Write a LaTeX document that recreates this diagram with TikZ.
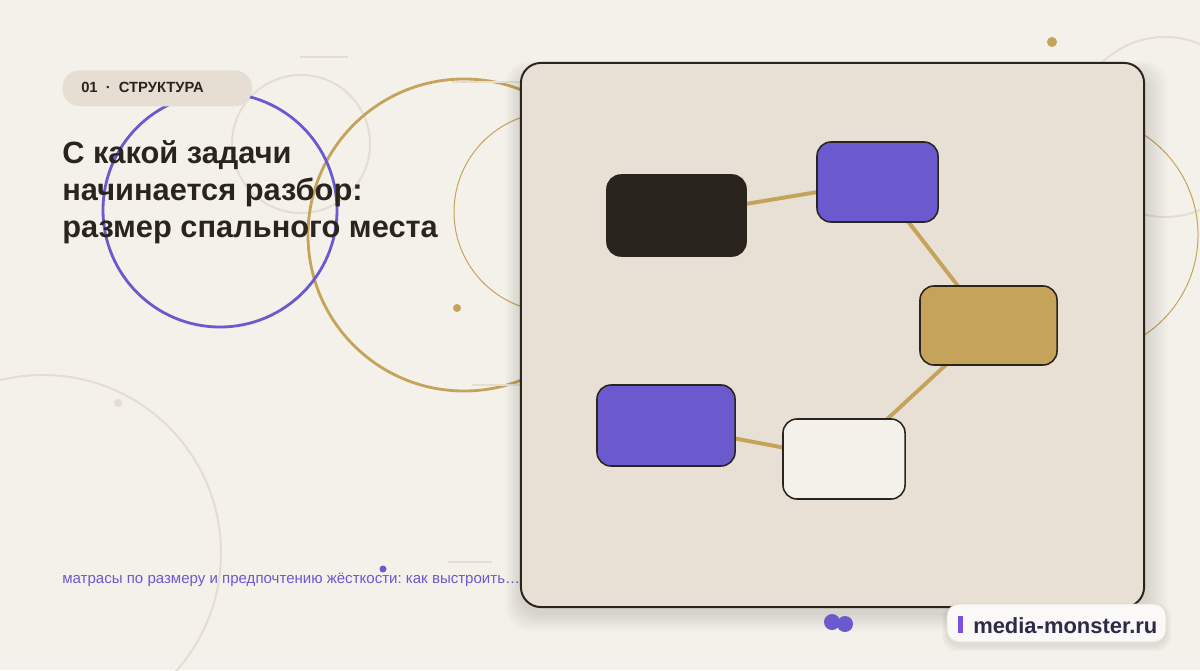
\documentclass[tikz,border=0pt]{standalone}
\usepackage{fontspec}
\setmainfont{Liberation Sans}
\usetikzlibrary{positioning}
\frenchspacing

\definecolor{paper}{HTML}{F4F1EA}
\definecolor{panelfill}{HTML}{E8E0D4}
\definecolor{ink}{HTML}{2A241E}
\definecolor{violet}{HTML}{6A5ACD}
\definecolor{gold}{HTML}{C6A35A}
\definecolor{haze}{HTML}{E3DDD2}
\definecolor{pillfill}{HTML}{E6DED2}
\definecolor{badgeink}{HTML}{2E2A4A}
\definecolor{badgebar}{HTML}{7B4FE0}

\tikzset{
  ring/.style={draw=haze, line width=1.4pt},
  goldring/.style={draw=gold, line width=2pt},
  thinring/.style={draw=gold, line width=0.7pt},
  dash line/.style={draw=haze, line width=1.2pt},
  card/.style={rounded corners=0.35cm, draw=ink, line width=1.1pt, inner sep=0pt},
  link/.style={draw=gold, line width=2.8pt},
}

\begin{document}
\begin{tikzpicture}[x=0.025cm, y=-0.025cm]
  \useasboundingbox (0,0) rectangle (1200,670);
  \fill [paper] (0,0) rectangle (1200,670);

  % Drawing the background rings
  \draw [ring] (301,144) circle (69);
  \draw [ring] (1165,127) circle (90);
  \draw [ring] (43,553) circle (178);
  \draw [goldring] (464,235) circle (156);
  \draw [thinring] (554,212) circle (100);
  \draw [thinring] (1078,235) circle (120);
  \draw [draw=violet, line width=2pt] (220,210) circle (117);

  % Drawing short hairlines
  \draw [dash line] (300,57) -- (348,57);
  \draw [dash line] (452,82) -- (521,82);
  \draw [dash line] (472,385) -- (521,385);
  \draw [dash line] (448,562) -- (492,562);

  % Marking the loose dots
  \fill [gold] (457,308) circle (4);
  \fill [gold] (1052,42) circle (5);
  \fill [haze] (118,403) circle (4);
  \fill [violet] (383,569) circle (3.5);

  % Section pill
  \node (pill) [fill=pillfill, rounded corners=0.45cm, minimum width=4.75cm,
    minimum height=0.9cm, anchor=north west] at (62,70) {};
  \node (tag) [anchor=base west, inner sep=0pt, text=ink,
    font=\fontsize{10.5}{12}\selectfont\bfseries] at (81,92)
    {01\hspace{0.55em}·\hspace{0.55em}СТРУКТУРА};

  % Title lines
  \node (title1) [anchor=base west, inner sep=0pt, text=ink,
    font=\fontsize{21.9}{26}\selectfont\bfseries] at (62,163) {С какой задачи};
  \node (title2) [anchor=base west, inner sep=0pt, text=ink,
    font=\fontsize{21.9}{26}\selectfont\bfseries] at (62,200) {начинается разбор:};
  \node (title3) [anchor=base west, inner sep=0pt, text=ink,
    font=\fontsize{21.9}{26}\selectfont\bfseries] at (62,237) {размер спального места};

  % Subtitle
  \node (subtitle) [anchor=base west, inner sep=0pt, text=violet,
    font=\fontsize{10.7}{12}\selectfont] at (62,583)
    {матрасы по размеру и предпочтению жёсткости: как выстроить…};

  % Panel with its soft shadow
  \foreach \i in {1,...,10}
    \fill [black, opacity=0.012, rounded corners=0.6cm]
      (521-1.6*\i,63-\i+8) rectangle (1144+2.4*\i,607+1.8*\i+6);
  \node (panel) [fill=panelfill, draw=ink, line width=1.4pt, rounded corners=0.5cm,
    minimum width=15.575cm, minimum height=13.6cm, inner sep=0pt] at (832.5,335) {};

  % Cards
  \coordinate (cdark) at (676.5,215.5);
  \coordinate (ctop) at (877.5,182);
  \coordinate (cgold) at (988.5,325.5);
  \coordinate (clight) at (844,459);
  \coordinate (cleft) at (666,425.5);

  % Drawing the links behind the cards
  \draw [link] (cdark) -- (ctop) -- (cgold) -- (clight) -- (cleft);

  \node (dark) [card, fill=ink, minimum width=3.475cm, minimum height=2.025cm] at (cdark) {};
  \node (top) [card, fill=violet, minimum width=3.025cm, minimum height=2cm] at (ctop) {};
  \node (mid) [card, fill=gold, minimum width=3.425cm, minimum height=1.975cm] at (cgold) {};
  \node (light) [card, fill=paper, minimum width=3.05cm, minimum height=2cm] at (clight) {};
  \node (left) [card, fill=violet, minimum width=3.45cm, minimum height=2.025cm] at (cleft) {};

  % Marking the twin dots
  \fill [violet] (832,622) circle (8);
  \fill [violet] (845,624) circle (8);

  % Site badge
  \foreach \i in {1,...,5}
    \fill [black, opacity=0.015, rounded corners=0.35cm]
      (947-\i,604-\i+4) rectangle (1166+\i,642+\i+4);
  \node (badge) [fill=white!60!paper, draw=haze, line width=0.6pt, rounded corners=0.3cm,
    minimum width=5.475cm, minimum height=0.95cm, inner sep=0pt] at (1056.5,623) {};
  \fill [badgebar] (958,616) rectangle (963,633);
  \node (site) [anchor=base west, inner sep=0pt, text=badgeink,
    font=\fontsize{15.6}{18}\selectfont\bfseries] at (973,633) {media-monster.ru};
\end{tikzpicture}
\end{document}
